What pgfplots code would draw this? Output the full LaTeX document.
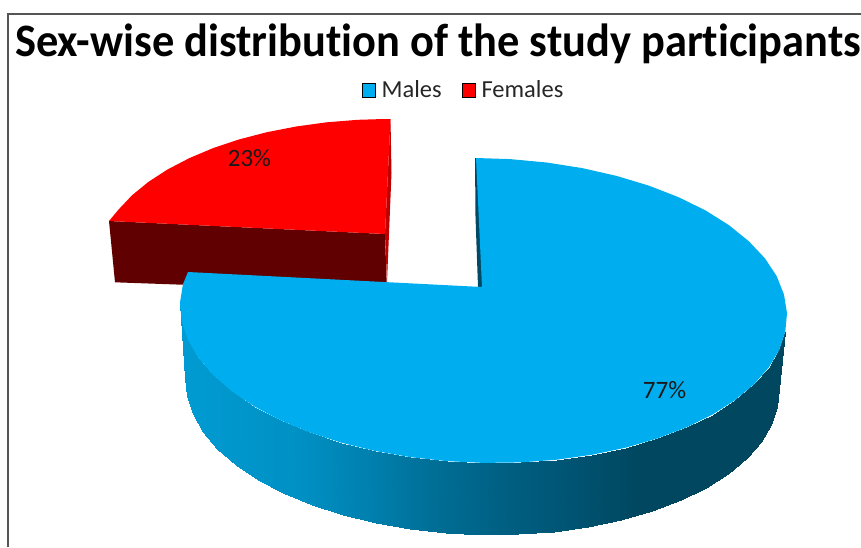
\documentclass[border=0pt]{standalone}
\usepackage{fontspec}
\setmainfont{Carlito}[Ligatures={NoCommon}]
\usepackage{pgfplots}
\pgfplotsset{compat=1.18}
\usepackage{pgfplotstable}

\definecolor{malesblue}{RGB}{0,174,239}
\definecolor{femalesred}{RGB}{255,0,0}
\definecolor{redwall}{RGB}{96,0,0}
\definecolor{redsliver}{RGB}{192,0,0}
\definecolor{bluesliver}{RGB}{0,74,102}
\definecolor{framegrey}{RGB}{85,85,85}
\definecolor{legendtext}{RGB}{38,38,38}

% Outer wall of the Males slice: upper rim followed by lower rim
\pgfplotstableread{
x y
787.0 313.2
785.3 331.7
779.2 350.0
768.7 367.6
753.9 384.4
735.1 400.1
712.6 414.5
686.6 427.3
657.6 438.4
626.0 447.6
592.3 454.7
556.9 459.7
520.5 462.4
483.5 462.9
446.5 461.1
410.1 457.1
374.7 450.9
341.0 442.6
309.4 432.3
280.4 420.2
254.4 406.5
231.9 391.3
213.1 375.0
198.3 357.6
187.8 339.6
181.7 321.1
180.0 302.5
779.0 388.6
777.4 406.7
771.4 424.6
761.1 441.8
746.6 458.2
728.2 473.6
706.1 487.6
680.7 500.1
652.4 511.0
621.4 519.9
588.4 526.9
553.8 531.7
518.2 534.4
482.0 534.9
445.8 533.2
410.2 529.2
375.6 523.2
342.6 515.0
311.6 505.0
283.3 493.2
257.9 479.8
235.8 465.0
217.4 449.0
202.9 432.0
192.6 414.4
186.6 396.4
185.0 378.2
}\maleswall

% Top face of the Males slice (77 %)
\pgfplotstableread{
x y
482.0 287.0
476.0 158.0
510.0 159.1
546.6 162.5
582.3 168.1
616.6 175.9
648.8 185.6
678.6 197.2
705.5 210.4
729.0 225.2
748.9 241.3
764.9 258.3
776.7 276.2
784.0 294.6
787.0 313.2
785.3 331.7
779.2 350.0
768.7 367.6
753.9 384.4
735.1 400.1
712.6 414.5
686.6 427.3
657.6 438.4
626.0 447.6
592.3 454.7
556.9 459.7
520.5 462.4
483.5 462.9
446.5 461.1
410.1 457.1
374.7 450.9
341.0 442.6
309.4 432.3
280.4 420.2
254.4 406.5
231.9 391.3
213.1 375.0
198.3 357.6
187.8 339.6
181.7 321.1
180.0 302.5
183.0 284.0
188.0 272.0
}\malestop

% Top face of the exploded Females slice (23 %)
\pgfplotstableread{
x y
385.0 234.0
390.5 119.0
384.1 119.0
357.8 119.8
326.6 122.3
296.2 126.5
266.9 132.2
239.2 139.4
213.1 148.1
189.2 158.2
167.5 169.5
148.4 181.9
132.0 195.3
118.6 209.5
109.0 221.0
}\femalestop

\begin{document}
\begin{tikzpicture}
\begin{axis}[
  scale only axis,
  width=861pt, height=547pt,
  xmin=0, xmax=861, ymin=0, ymax=547,
  y dir=reverse,
  hide axis,
  clip=true,
  colormap={sidewall}{
    rgb255(0pt)=(0,155,210);
    rgb255(115pt)=(0,144,196);
    rgb255(185pt)=(0,128,174);
    rgb255(245pt)=(0,111,151);
    rgb255(315pt)=(0,96,131);
    rgb255(395pt)=(0,82,112);
    rgb255(455pt)=(0,71,95);
    rgb255(595pt)=(0,71,95)
  },
  point meta min=185, point meta max=780,
  legend columns=2,
  legend style={
    at={(axis cs:463.5,90)}, anchor=center,
    draw=none, fill=none,
    font=\fontsize{24.5}{28}\selectfont\color{legendtext},
    /tikz/every odd column/.append style={column sep=4pt},
    /tikz/every even column/.append style={column sep=18pt},
    inner sep=0pt
  },
  legend cell align=left,
  legend image code/.code={
    \fill[#1] (0pt,-7.5pt) rectangle (13.5pt,7pt);
  },
]
% Page extent of the chart
\path (axis cs:0,0) (axis cs:861,547);
% Frame of the chart area
\addplot[framegrey, line width=1.6pt, forget plot] coordinates {(8,547) (8,14) (861,14)};

% Females slice, behind the larger slice
\addplot[fill=redwall, draw=none, forget plot] coordinates {(109,221) (385,234) (387,292) (115,282.3)};
\addplot[fill=redsliver, draw=none, forget plot] coordinates {(390.5,119) (391.5,173) (387,282) (385,234)};
\addplot[fill=femalesred, draw=none, forget plot] table[x=x, y=y] {\femalestop};

% Males slice: shaded wall, inner cut, top face
\addplot[surf, shader=interp, mesh/rows=2, point meta=x, forget plot] table[x=x, y=y] {\maleswall};
\addplot[fill=bluesliver, draw=none, forget plot] coordinates {(475,158) (475.5,217) (478,287) (482.5,287) (477,158)};
\addplot[fill=malesblue, draw=none, forget plot] table[x=x, y=y] {\malestop};

\addlegendimage{fill=malesblue}
\addlegendentry{Males}
\addlegendimage{fill=femalesred}
\addlegendentry{Females}

\node[font=\fontsize{25}{28}\selectfont, text=black!90] at (axis cs:249.5,158) {23\%};
\node[font=\fontsize{25}{28}\selectfont, text=black!90] at (axis cs:664.5,390) {77\%};
\node[font=\bfseries\fontsize{46.5}{50}\selectfont, anchor=base west, inner sep=0pt] at (axis cs:15,56.5) {\scalebox{0.955}[1]{Sex-wise distribution of the study participants}};
\end{axis}
\end{tikzpicture}
\end{document}
